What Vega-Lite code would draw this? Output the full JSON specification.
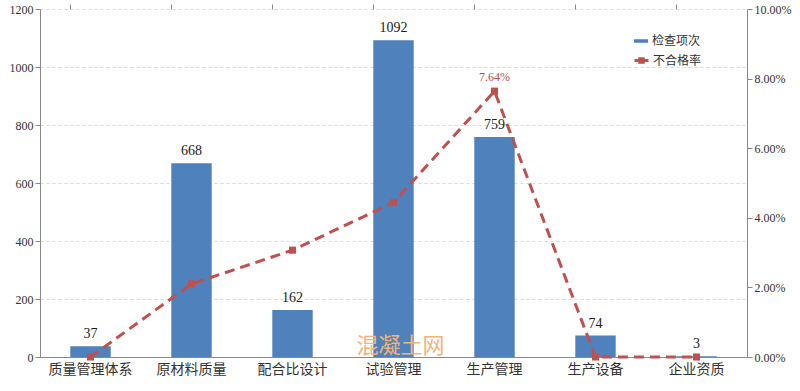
{
  "$schema": "https://vega.github.io/schema/vega-lite/v6.json",
  "width": 707,
  "height": 348,
  "padding": {"left": 40, "top": 9, "right": 53, "bottom": 34},
  "autosize": {"type": "none"},
  "background": "white",
  "config": {"view": {"stroke": null}, "font": "Noto Sans CJK SC"},
  "data": {"values": [
    {"cat": "质量管理体系", "count": 37, "rate": 0.0, "s1": "检查项次", "s2": "不合格率"},
    {"cat": "原材料质量", "count": 668, "rate": 0.021, "s1": "检查项次", "s2": "不合格率"},
    {"cat": "配合比设计", "count": 162, "rate": 0.0307, "s1": "检查项次", "s2": "不合格率"},
    {"cat": "试验管理", "count": 1092, "rate": 0.0444, "s1": "检查项次", "s2": "不合格率"},
    {"cat": "生产管理", "count": 759, "rate": 0.0764, "s1": "检查项次", "s2": "不合格率"},
    {"cat": "生产设备", "count": 74, "rate": 0.0, "s1": "检查项次", "s2": "不合格率"},
    {"cat": "企业资质", "count": 3, "rate": 0.0, "s1": "检查项次", "s2": "不合格率"}
  ]},
  "layer": [
    {
      "encoding": {
        "x": {
          "field": "cat", "type": "nominal", "sort": null,
          "scale": {"type": "band", "paddingInner": 0.6, "paddingOuter": 0.3},
          "axis": {"title": null, "labelAngle": 0, "labelFont": "Noto Sans CJK SC", "labelFontSize": 14, "labelColor": "#333333", "labelPadding": 5, "ticks": false, "domain": true, "domainColor": "#898989", "grid": false}
        },
        "y": {
          "field": "count", "type": "quantitative",
          "scale": {"domain": [0, 1200]},
          "axis": {"title": null, "orient": "left", "format": "d", "values": [0, 200, 400, 600, 800, 1000, 1200], "labelFont": "Liberation Serif", "labelFontSize": 12, "labelColor": "#333333", "domainColor": "#898989", "tickColor": "#898989", "tickSize": 5, "grid": true, "gridColor": "#d9d9d9", "gridDash": [3, 3]}
        }
      },
      "layer": [
        {
          "mark": {"type": "bar", "color": "#4f81bd"},
          "encoding": {
            "color": {"field": "s1", "type": "nominal", "scale": {"range": ["#4f81bd"]},
              "legend": {"title": null, "orient": "none", "legendX": 593, "legendY": 24, "symbolType": "M-1,-0.25H1V0.25H-1Z", "symbolSize": 196, "labelFont": "Noto Sans CJK SC", "labelFontSize": 12, "labelColor": "#333333", "labelOffset": 3}}
          }
        },
        {
          "mark": {"type": "text", "dy": -12, "font": "Liberation Serif", "fontSize": 14, "color": "#222222"},
          "encoding": {"text": {"field": "count", "type": "quantitative"}}
        },
        {
          "transform": [{"filter": "datum.cat == '试验管理'"}],
          "mark": {"type": "text", "font": "Noto Sans CJK SC", "fontSize": 22, "color": "#f5b27a", "dx": 7},
          "encoding": {
            "y": {"datum": 37, "type": "quantitative"},
            "text": {"value": "混凝土网"}
          }
        }
      ]
    },
    {
      "encoding": {
        "x": {
          "field": "cat", "type": "nominal", "sort": null,
          "axis": {"title": null, "labels": false, "ticks": true, "bandPosition": 0, "tickColor": "#898989", "tickSize": 5, "domain": false, "grid": false}
        },
        "y": {
          "field": "rate", "type": "quantitative",
          "scale": {"domain": [0, 0.1]},
          "axis": {"title": null, "orient": "right", "format": ".2%", "values": [0, 0.02, 0.04, 0.06, 0.08, 0.1], "labelFont": "Liberation Serif", "labelFontSize": 12, "labelColor": "#333333", "domainColor": "#898989", "tickColor": "#898989", "tickSize": 5, "grid": false}
        }
      },
      "layer": [
        {
          "mark": {"type": "line", "strokeWidth": 3, "strokeDash": [10, 6], "color": "#c0504d"},
          "encoding": {
            "stroke": {"field": "s2", "type": "nominal", "scale": {"range": ["#c0504d"]},
              "legend": {"title": null, "orient": "none", "legendX": 593, "legendY": 43, "symbolType": "M-1,0H1M-0.25,-0.25H0.25V0.25H-0.25Z", "symbolSize": 196, "symbolStrokeWidth": 3, "symbolFillColor": "#c0504d", "labelFont": "Noto Sans CJK SC", "labelFontSize": 12, "labelColor": "#333333", "labelOffset": 3}}
          }
        },
        {
          "mark": {"type": "point", "shape": "square", "filled": true, "size": 50, "color": "#c0504d", "opacity": 1}
        },
        {
          "transform": [{"filter": "datum.rate > 0.07"}],
          "mark": {"type": "text", "dy": -14, "font": "Liberation Serif", "fontSize": 12, "color": "#c0504d"},
          "encoding": {"text": {"field": "rate", "type": "quantitative", "format": ".2%"}}
        }
      ]
    }
  ],
  "resolve": {"scale": {"y": "independent"}, "axis": {"x": "independent"}}
}
